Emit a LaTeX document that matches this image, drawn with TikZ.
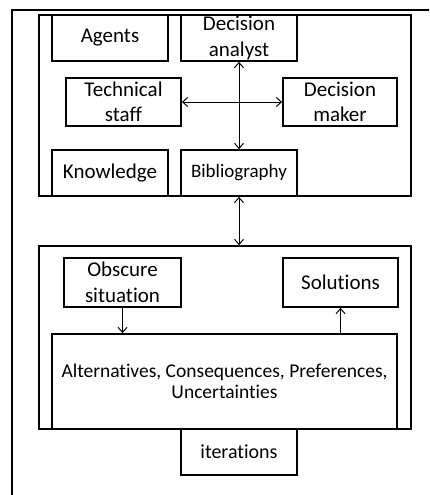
\documentclass[tikz,border=0pt]{standalone}
\usepackage{fontspec}
\setmainfont[Ligatures=NoCommon]{Carlito}
\usetikzlibrary{arrows.meta}
\begin{document}
\begin{tikzpicture}[x=1pt,y=-1pt,
  box/.style={draw, line width=1.8pt, fill=white, inner sep=0pt, align=center, font=\fontsize{21}{25.5}\selectfont},
  frame/.style={draw, line width=1.8pt},
  conn/.style={line width=1pt, {Straight Barb[length=5pt,width=9pt]}-{Straight Barb[length=5pt,width=9pt]}},
  oneway/.style={line width=1pt, -{Straight Barb[length=5pt,width=9pt]}}]
\useasboundingbox (0,0) rectangle (429,495);
\clip (0,0) rectangle (429,495);
\draw[line width=2.2pt] (12,10) rectangle (460,520);
% top group
\node[frame, minimum width=372pt, minimum height=181pt] (top) at (225,105.5) {};
\node[box, minimum width=116pt, minimum height=46pt] (agents) at (110,38) {Agents};
\node[box, minimum width=116pt, minimum height=46pt] (analyst) at (239,38) {Decision\\analyst};
\node[box, minimum width=115pt, minimum height=48pt] (tech) at (123.5,102) {Technical\\staff};
\node[box, minimum width=114pt, minimum height=48pt] (maker) at (340,102) {Decision\\maker};
\node[box, minimum width=116pt, minimum height=46pt] (know) at (110,173) {Knowledge};
\node[box, minimum width=116pt, minimum height=46pt, font=\fontsize{19}{23}\selectfont] (bib) at (239,173) {Bibliography};
\draw[conn] (analyst.south) -- (bib.north);
\draw[conn] (tech.east) -- (maker.west);
% lower group
\node[frame, minimum width=372pt, minimum height=183pt] (low) at (225,337.5) {};
\node[box, minimum width=117pt, minimum height=49pt] (obs) at (122.5,282.5) {Obscure\\situation};
\node[box, minimum width=115pt, minimum height=49pt] (sol) at (340.5,282.5) {Solutions};
\node[box, minimum width=345pt, minimum height=95pt, font=\fontsize{19.5}{21}\selectfont] (alt) at (224.5,381.5) {Alternatives, Consequences, Preferences,\\Uncertainties};
\node[box, minimum width=116pt, minimum height=46pt, font=\fontsize{20}{24}\selectfont] (iter) at (239,452) {iterations};
\draw[conn] (bib.south |- top.south) -- (bib.south |- low.north);
\draw[oneway] (obs.south) -- (obs.south |- alt.north);
\draw[oneway] (sol.south |- alt.north) -- (sol.south);
\end{tikzpicture}
\end{document}
